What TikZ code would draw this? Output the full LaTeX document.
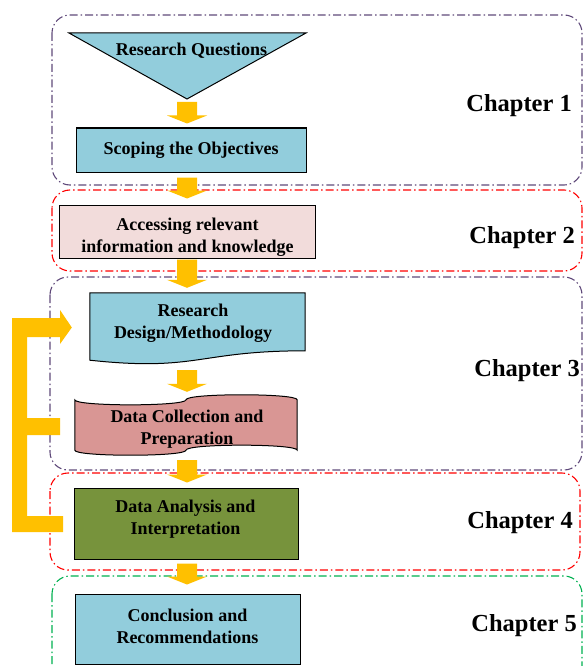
\documentclass[tikz,border=0pt]{standalone}
\usepackage{fontspec}
\setmainfont{Liberation Serif}
\usetikzlibrary{calc}
\definecolor{chpurple}{HTML}{5F497A}
\definecolor{chred}{HTML}{FF0000}
\definecolor{chgreen}{HTML}{00B050}
\definecolor{flowgold}{HTML}{FFC000}
\definecolor{skyfill}{HTML}{92CDDC}
\definecolor{rosefill}{HTML}{F2DCDB}
\definecolor{clayfill}{HTML}{D99694}
\definecolor{olivefill}{HTML}{77933C}

\begin{document}
\begin{tikzpicture}[x=1pt,y=-1pt,
  chbox/.style={line width=1.1pt, rounded corners=18pt,
    dash pattern=on 8pt off 3pt on 1.5pt off 3pt},
  shapeline/.style={draw=black, line width=1pt},
  box/.style={shapeline, rectangle, inner sep=0pt},
  frame/.style={rectangle, inner sep=0pt},
  txt/.style={font=\bfseries\fontsize{18}{22}\selectfont, align=center, inner sep=0pt},
  chap/.style={font=\bfseries\fontsize{24.5}{28}\selectfont, anchor=base east, inner sep=0pt},
  blockarrow/.style={fill=flowgold, to path={
    let \p1=(\tikztostart), \p2=(\tikztotarget) in
    (\x1-10pt,\y1) -- (\x1+10pt,\y1) -- (\x1+10pt,\y2+8pt) -- (\x1+20pt,\y2+8pt)
    -- (\x1,\y2) -- (\x1-20pt,\y2+8pt) -- (\x1-10pt,\y2+8pt) -- cycle}}
]
\useasboundingbox (0,0) rectangle (583,666);
\clip (0,0) rectangle (583,666);

% chapter frames
\draw[chbox, chpurple] (52,15) rectangle (582,185);
\draw[chbox, chred] (52,190) rectangle (582,271);
\draw[chbox, chpurple] (50,277) rectangle (582,470);
\draw[chbox, chred] (50,473) rectangle (580,570);
\draw[chbox, chgreen] (52,576) rectangle (582,700);

\coordinate (spine) at (187,0);

% research questions (inverted triangle)
\draw[shapeline, fill=skyfill] (69,33) -- (306,33) -- (187,99) -- cycle;
\coordinate (rqtip) at (187,99);
\node[txt] (rq) at (191.5,51) {Research Questions};

% scoping
\node[box, fill=skyfill, minimum width=230pt, minimum height=44pt, txt] (scope) at (191,150) {Scoping the Objectives};

% accessing information
\node[box, fill=rosefill, minimum width=256pt, minimum height=53pt] (access) at (187,231.5) {};
\node[txt] (accessT) at (187.5,237) {Accessing relevant\\information and knowledge};

% research design (document shape)
\node[frame, minimum width=215pt, minimum height=67pt] (design) at (197.5,326.5) {};
\draw[shapeline, fill=skyfill] (design.north west) -- (design.north east)
  -- ($(design.north east)+(0,58)$)
  .. controls ($(design.north)+(0,58)$) and ($(design.north)+(0,79)$) .. (design.south west)
  -- cycle;
\node[txt] (designT) at (193,323.5) {Research\\Design/Methodology};

% data collection (punched tape)
\node[frame, minimum width=222pt, minimum height=50pt] (tape) at (186,425) {};
\draw[shapeline, fill=clayfill] (tape.north west)
  .. controls ($(tape.north west)+(0,6.7)$) and ($(tape.north)+(0,6.7)$) .. (tape.north)
  .. controls ($(tape.north)+(0,-6.7)$) and ($(tape.north east)+(0,-6.7)$) .. (tape.north east)
  -- (tape.south east)
  .. controls ($(tape.south east)+(0,-6.7)$) and ($(tape.south)+(0,-6.7)$) .. (tape.south)
  .. controls ($(tape.south)+(0,6.7)$) and ($(tape.south west)+(0,6.7)$) .. (tape.south west)
  -- cycle;
\node[txt] (tapeT) at (187,429.5) {Data Collection and\\Preparation};

% data analysis
\node[box, fill=olivefill, minimum width=224pt, minimum height=71pt] (analysis) at (186,523.5) {};
\node[txt] (analysisT) at (185.5,519.5) {Data Analysis and\\Interpretation};

% conclusion
\node[box, fill=skyfill, minimum width=225pt, minimum height=70pt] (concl) at (187.5,629) {};
\node[txt] (conclT) at (187.5,626.5) {Conclusion and\\Recommendations};

% flow arrows
\path[blockarrow] ($(rqtip)+(0,3)$) to ($(scope.north -| spine)+(0,-4)$);
\path[blockarrow] ($(scope.south -| spine)+(0,5)$) to ($(access.north -| spine)+(0,-6)$);
\path[blockarrow] ($(access.south -| spine)+(0,1)$) to ($(design.north -| spine)+(0,-5)$);
\path[blockarrow] ($(design.south -| spine)+(0,10)$) to ($(tape.north -| spine)+(0,-8)$);
\path[blockarrow] ($(tape.south -| spine)+(0,10)$) to ($(analysis.north -| spine)+(0,-5)$);
\path[blockarrow] ($(analysis.south -| spine)+(0,4)$) to ($(concl.north -| spine)+(0,-9)$);

% feedback loop back to the research design
\coordinate (loopTip) at ($(design.west)+(-18,1)$);
\fill[flowgold] (12,318) -- (60,318) -- (60,310) -- (loopTip) -- (60,344) -- (60,337)
  -- (27,337) -- (27,418) -- (60,418) -- (60,435) -- (27,435) -- (27,516)
  -- (63,516) -- (63,532) -- (12,532) -- cycle;

% chapter labels
\node[chap] (ch1) at (572,112) {Chapter 1};
\node[chap] (ch2) at (575,243) {Chapter 2};
\node[chap] (ch3) at (580,376) {Chapter 3};
\node[chap] (ch4) at (573,528) {Chapter 4};
\node[chap] (ch5) at (577,631) {Chapter 5};
\end{tikzpicture}
\end{document}
